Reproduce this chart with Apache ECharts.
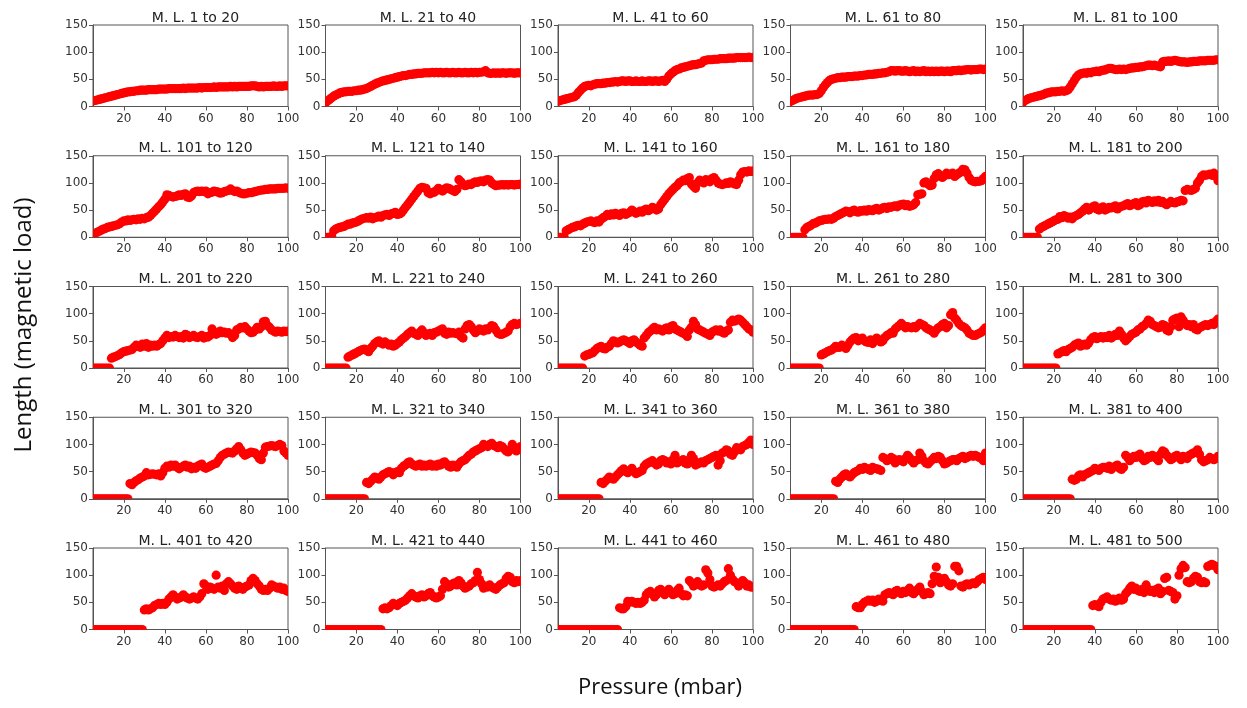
<!DOCTYPE html>
<html>
<head>
<meta charset="utf-8">
<script src="https://cdn.jsdelivr.net/npm/echarts@6/dist/echarts.min.js"></script>
<style>
  html, body { margin: 0; padding: 0; background: #fff; }
  #chart { width: 1247px; height: 708px; }
</style>
</head>
<body>
<div id="chart"></div>
<script>
  const pressure = [5, 6, 7, 8, 9, 10, 11, 12, 13, 14, 15, 16, 17, 18, 19, 20, 21, 22, 23, 24,
    25, 26, 27, 28, 29, 30, 31, 32, 33, 34, 35, 36, 37, 38, 39, 40, 41, 42, 43, 44,
    45, 46, 47, 48, 49, 50, 51, 52, 53, 54, 55, 56, 57, 58, 59, 60, 61, 62, 63, 64,
    65, 66, 67, 68, 69, 70, 71, 72, 73, 74, 75, 76, 77, 78, 79, 80, 81, 82, 83, 84,
    85, 86, 87, 88, 89, 90, 91, 92, 93, 94, 95, 96, 97, 98, 99, 100]

  const titles = ['M. L. 1 to 20', 'M. L. 21 to 40', 'M. L. 41 to 60', 'M. L. 61 to 80', 'M. L. 81 to 100',
    'M. L. 101 to 120', 'M. L. 121 to 140', 'M. L. 141 to 160', 'M. L. 161 to 180', 'M. L. 181 to 200',
    'M. L. 201 to 220', 'M. L. 221 to 240', 'M. L. 241 to 260', 'M. L. 261 to 280', 'M. L. 281 to 300',
    'M. L. 301 to 320', 'M. L. 321 to 340', 'M. L. 341 to 360', 'M. L. 361 to 380', 'M. L. 381 to 400',
    'M. L. 401 to 420', 'M. L. 421 to 440', 'M. L. 441 to 460', 'M. L. 461 to 480', 'M. L. 481 to 500']

  const xTicks = [20, 40, 60, 80, 100]
  const yTicks = [0, 50, 100, 150]

  // length per pressure step, one array per magnetic load group
  const ml1 = [10, 11, 12, 13, 14, 15, 16, 17, 18, 19, 20, 21, 22, 23, 24, 25, 26, 27, 27, 28,
    28, 29, 29, 30, 30, 30, 30, 31, 31, 31, 31, 31, 32, 32, 32, 32, 32, 33, 33, 33,
    33, 33, 33, 33, 34, 33, 34, 34, 34, 34, 34, 34, 35, 34, 35, 35, 35, 35, 35, 36,
    35, 36, 36, 36, 36, 36, 36, 37, 36, 37, 36, 37, 37, 37, 37, 37, 37, 38, 38, 38,
    37, 36, 37, 36, 37, 37, 37, 37, 38, 37, 37, 38, 37, 38, 38, 38]
  const ml21 = [7, 10, 13, 16, 19, 21, 23, 25, 26, 27, 27, 28, 28, 28, 29, 29, 30, 30, 31, 32,
    33, 35, 37, 39, 41, 43, 44, 46, 47, 48, 49, 50, 51, 52, 53, 54, 55, 56, 57, 57,
    58, 59, 59, 60, 60, 61, 61, 61, 62, 62, 62, 62, 63, 62, 63, 62, 63, 62, 62, 63,
    62, 62, 63, 62, 62, 63, 62, 62, 63, 62, 62, 63, 62, 63, 62, 63, 63, 64, 66, 62,
    61, 61, 62, 61, 62, 61, 62, 62, 61, 62, 62, 62, 61, 62, 62, 62]
  const ml41 = [9, 11, 12, 13, 14, 15, 16, 17, 18, 21, 26, 30, 34, 37, 38, 39, 38, 40, 41, 42,
    42, 42, 43, 43, 44, 44, 45, 45, 46, 45, 46, 47, 47, 46, 47, 47, 46, 46, 47, 46,
    46, 47, 46, 46, 47, 47, 46, 47, 47, 46, 47, 48, 46, 50, 56, 60, 63, 66, 68, 69,
    71, 72, 73, 74, 75, 76, 77, 77, 78, 79, 80, 84, 85, 86, 86, 86, 87, 87, 87, 88,
    88, 88, 88, 89, 89, 89, 89, 90, 90, 90, 90, 90, 90, 91, 90, 90]
  const ml61 = [9, 11, 13, 15, 16, 17, 18, 19, 20, 21, 21, 21, 22, 22, 24, 29, 35, 40, 44, 48,
    50, 51, 52, 53, 53, 54, 54, 54, 55, 55, 55, 56, 56, 56, 57, 57, 58, 58, 59, 59,
    59, 60, 60, 61, 61, 62, 62, 63, 64, 66, 66, 65, 66, 66, 65, 65, 66, 65, 64, 65,
    66, 64, 65, 64, 65, 66, 64, 65, 64, 65, 64, 65, 64, 65, 65, 64, 65, 65, 64, 66,
    66, 66, 67, 66, 67, 67, 68, 68, 67, 68, 68, 68, 69, 69, 68, 69]
  const ml81 = [8, 11, 13, 15, 16, 17, 18, 19, 20, 21, 22, 24, 25, 26, 27, 27, 27, 28, 28, 29,
    28, 29, 31, 36, 42, 48, 54, 58, 60, 61, 62, 61, 63, 62, 64, 64, 65, 64, 66, 67,
    67, 69, 70, 70, 69, 68, 68, 69, 68, 69, 68, 69, 70, 71, 71, 72, 72, 73, 73, 74,
    75, 76, 76, 75, 76, 75, 74, 73, 82, 83, 83, 84, 83, 84, 85, 84, 83, 82, 82, 82,
    81, 82, 82, 83, 83, 83, 84, 84, 84, 84, 85, 85, 85, 85, 86, 86]
  const ml101 = [5, 7, 9, 11, 13, 15, 16, 18, 19, 20, 21, 22, 23, 25, 28, 30, 30, 32, 31, 32,
    33, 32, 34, 33, 35, 34, 36, 37, 40, 44, 48, 52, 56, 60, 65, 70, 78, 77, 75, 74,
    75, 76, 78, 77, 79, 80, 74, 73, 76, 82, 84, 85, 84, 85, 84, 85, 80, 82, 83, 85,
    84, 83, 81, 82, 84, 85, 86, 89, 86, 84, 85, 83, 81, 80, 80, 81, 82, 82, 83, 84,
    85, 86, 87, 87, 88, 88, 89, 89, 89, 89, 90, 90, 90, 90, 91, 90]
  const ml121 = [0, 0, 0, 2, 12, 15, 17, 18, 19, 20, 22, 24, 24, 26, 27, 28, 30, 32, 34, 35,
    36, 35, 37, 34, 36, 37, 39, 37, 40, 41, 42, 40, 43, 44, 46, 42, 43, 45, 50, 55,
    60, 65, 70, 75, 80, 85, 90, 92, 91, 90, 82, 80, 82, 83, 86, 90, 88, 85, 88, 91,
    90, 88, 86, 84, 88, 106, 102, 97, 95, 96, 98, 97, 100, 102, 101, 103, 104, 102, 105, 106,
    105, 100, 97, 95, 96, 96, 97, 96, 97, 96, 97, 97, 96, 97, 97, 98]
  const ml141 = [0, 0, 0, 0, 12, 14, 16, 18, 19, 21, 22, 21, 24, 26, 28, 29, 30, 28, 27, 30,
    28, 33, 36, 38, 42, 40, 43, 41, 44, 42, 40, 44, 45, 42, 44, 46, 50, 47, 44, 46,
    48, 46, 50, 52, 49, 51, 55, 53, 50, 52, 60, 65, 70, 75, 80, 84, 88, 92, 95, 100,
    102, 105, 104, 108, 110, 98, 94, 90, 100, 105, 103, 100, 106, 104, 102, 108, 110, 105, 100, 98,
    97, 98, 100, 99, 102, 100, 98, 97, 105, 115, 120, 121, 120, 122, 121, 122]
  const ml161 = [0, 0, 0, 0, 0, 0, 0, 14, 18, 20, 22, 25, 26, 28, 30, 31, 32, 33, 33, 34,
    33, 35, 38, 40, 42, 44, 46, 48, 47, 45, 48, 50, 47, 46, 49, 48, 50, 48, 51, 50,
    49, 52, 53, 50, 52, 54, 55, 53, 56, 55, 57, 58, 56, 59, 60, 61, 58, 60, 57, 58,
    60, 64, 78, 79, 80, 100, 102, 98, 95, 96, 108, 115, 117, 112, 110, 113, 118, 115, 116, 118,
    112, 115, 118, 120, 125, 124, 118, 110, 105, 103, 102, 103, 103, 104, 108, 112]
  const ml181 = [0, 0, 0, 0, 0, 0, 0, 0, 15, 18, 20, 22, 24, 26, 28, 30, 32, 33, 38, 36,
    40, 38, 35, 37, 34, 38, 40, 42, 45, 48, 52, 55, 50, 53, 56, 58, 52, 50, 54, 56,
    50, 52, 55, 54, 56, 58, 52, 55, 57, 58, 60, 62, 58, 60, 62, 64, 58, 60, 65, 66,
    63, 68, 66, 64, 67, 65, 68, 64, 66, 62, 60, 63, 66, 64, 63, 65, 66, 68, 67, 86,
    88, 87, 86, 88, 90, 100, 105, 112, 115, 114, 115, 116, 114, 118, 112, 104]
  const ml201 = [0, 0, 0, 0, 0, 0, 0, 0, 0, 18, 20, 21, 23, 25, 28, 30, 31, 32, 33, 34,
    38, 42, 40, 38, 44, 40, 45, 38, 42, 40, 42, 40, 43, 45, 50, 55, 60, 56, 58, 57,
    60, 58, 56, 58, 55, 62, 60, 56, 58, 60, 57, 56, 58, 60, 55, 58, 57, 60, 72, 66,
    62, 64, 68, 65, 66, 64, 65, 62, 56, 60, 70, 72, 75, 74, 76, 72, 68, 65, 66, 70,
    75, 72, 76, 85, 86, 78, 75, 70, 68, 66, 68, 67, 66, 68, 67, 68]
  const ml221 = [0, 0, 0, 0, 0, 0, 0, 0, 0, 0, 0, 20, 22, 24, 26, 28, 30, 32, 34, 35,
    32, 30, 36, 40, 45, 48, 50, 46, 44, 48, 45, 42, 44, 40, 42, 45, 48, 52, 55, 58,
    62, 65, 68, 64, 62, 60, 66, 70, 65, 60, 62, 64, 60, 65, 66, 68, 70, 72, 64, 62,
    66, 64, 65, 64, 63, 66, 58, 55, 72, 78, 80, 76, 70, 65, 68, 72, 70, 68, 72, 70,
    74, 78, 76, 70, 64, 62, 62, 64, 66, 68, 76, 80, 82, 80, 81, 82]
  const ml241 = [0, 0, 0, 0, 0, 0, 0, 0, 0, 0, 0, 0, 0, 22, 24, 25, 27, 28, 32, 36,
    38, 40, 36, 35, 38, 40, 45, 50, 48, 46, 48, 50, 52, 50, 48, 45, 50, 52, 48, 45,
    42, 40, 55, 60, 65, 68, 72, 75, 70, 72, 70, 68, 72, 74, 70, 76, 78, 72, 70, 68,
    66, 64, 62, 58, 70, 75, 86, 80, 72, 70, 68, 66, 64, 62, 60, 66, 68, 70, 68, 70,
    66, 64, 68, 70, 84, 88, 86, 88, 90, 88, 84, 80, 76, 72, 70, 66]
  const ml261 = [0, 0, 0, 0, 0, 0, 0, 0, 0, 0, 0, 0, 0, 0, 0, 24, 26, 28, 30, 32,
    33, 36, 40, 38, 38, 42, 40, 36, 42, 48, 52, 55, 56, 50, 52, 55, 50, 48, 47, 52,
    45, 50, 55, 52, 48, 50, 56, 60, 62, 65, 64, 72, 75, 78, 82, 78, 74, 76, 75, 74,
    76, 74, 78, 82, 80, 78, 74, 72, 70, 68, 64, 70, 74, 76, 80, 82, 74, 78, 98, 102,
    92, 88, 82, 78, 76, 74, 70, 64, 62, 60, 60, 62, 64, 66, 70, 74]
  const ml281 = [0, 0, 0, 0, 0, 0, 0, 0, 0, 0, 0, 0, 0, 0, 0, 0, 0, 26, 28, 30,
    32, 30, 34, 36, 38, 42, 44, 46, 40, 42, 44, 42, 46, 52, 56, 58, 54, 56, 58, 55,
    58, 56, 60, 55, 58, 62, 60, 68, 62, 55, 50, 54, 58, 62, 64, 66, 70, 72, 76, 78,
    82, 88, 86, 80, 78, 76, 74, 75, 80, 78, 70, 68, 76, 88, 90, 92, 76, 94, 88, 82,
    78, 80, 76, 80, 72, 70, 74, 76, 78, 80, 78, 80, 82, 80, 86, 90]
  const ml301 = [0, 0, 0, 0, 0, 0, 0, 0, 0, 0, 0, 0, 0, 0, 0, 0, 0, 0, 28, 26,
    30, 33, 35, 38, 40, 42, 48, 44, 45, 46, 45, 44, 46, 42, 48, 56, 60, 58, 62, 60,
    62, 58, 55, 58, 60, 62, 58, 60, 55, 58, 56, 60, 62, 64, 58, 56, 58, 60, 62, 64,
    65, 70, 76, 80, 82, 84, 86, 85, 84, 88, 92, 96, 90, 84, 80, 82, 84, 86, 85, 84,
    80, 74, 72, 84, 95, 96, 97, 98, 97, 96, 98, 100, 98, 88, 84, 80]
  const ml321 = [0, 0, 0, 0, 0, 0, 0, 0, 0, 0, 0, 0, 0, 0, 0, 0, 0, 0, 0, 0,
    30, 28, 32, 36, 40, 38, 36, 40, 44, 46, 48, 50, 48, 44, 48, 50, 48, 56, 60, 62,
    66, 68, 64, 62, 60, 62, 64, 60, 62, 60, 62, 64, 60, 62, 60, 64, 62, 66, 68, 64,
    60, 58, 62, 60, 58, 64, 68, 70, 72, 76, 80, 82, 86, 88, 90, 92, 94, 100, 98, 96,
    100, 102, 98, 96, 94, 98, 96, 92, 88, 86, 90, 100, 94, 88, 92, 96]
  const ml341 = [0, 0, 0, 0, 0, 0, 0, 0, 0, 0, 0, 0, 0, 0, 0, 0, 0, 0, 0, 0,
    0, 30, 28, 32, 36, 40, 38, 36, 40, 44, 48, 52, 55, 50, 48, 52, 56, 50, 46, 48,
    50, 52, 60, 64, 66, 68, 70, 66, 62, 64, 70, 72, 70, 66, 68, 64, 72, 80, 66, 68,
    70, 72, 66, 64, 72, 80, 74, 62, 64, 66, 68, 66, 70, 72, 74, 76, 78, 80, 62, 70,
    84, 86, 90, 88, 82, 80, 86, 94, 92, 90, 96, 98, 100, 104, 108, 100]
  const ml361 = [0, 0, 0, 0, 0, 0, 0, 0, 0, 0, 0, 0, 0, 0, 0, 0, 0, 0, 0, 0,
    0, 0, 32, 30, 36, 40, 44, 46, 42, 40, 44, 48, 50, 52, 56, 54, 58, 56, 54, 52,
    58, 56, 55, 54, 52, 76, 74, 70, 72, 76, 74, 66, 70, 72, 70, 68, 74, 80, 76, 70,
    66, 70, 72, 84, 78, 70, 66, 64, 68, 72, 76, 74, 78, 76, 70, 64, 66, 68, 70, 72,
    72, 70, 74, 76, 78, 74, 76, 78, 80, 78, 80, 78, 76, 74, 70, 84]
  const ml381 = [0, 0, 0, 0, 0, 0, 0, 0, 0, 0, 0, 0, 0, 0, 0, 0, 0, 0, 0, 0,
    0, 0, 0, 0, 36, 34, 36, 42, 44, 40, 44, 46, 48, 50, 52, 56, 54, 52, 56, 58,
    58, 56, 60, 54, 58, 60, 62, 56, 54, 58, 80, 76, 70, 74, 78, 76, 80, 82, 74, 70,
    72, 78, 76, 80, 78, 74, 70, 82, 88, 86, 80, 76, 72, 74, 78, 80, 76, 72, 78, 76,
    74, 80, 82, 84, 86, 90, 82, 72, 68, 70, 72, 76, 74, 72, 74, 78]
  const ml401 = [0, 0, 0, 0, 0, 0, 0, 0, 0, 0, 0, 0, 0, 0, 0, 0, 0, 0, 0, 0,
    0, 0, 0, 0, 0, 36, 38, 36, 38, 40, 44, 46, 48, 46, 48, 46, 50, 56, 60, 64,
    60, 56, 58, 60, 64, 60, 58, 56, 58, 60, 58, 56, 60, 66, 84, 80, 74, 78, 76, 74,
    100, 78, 76, 80, 72, 84, 88, 84, 80, 76, 74, 80, 76, 74, 78, 80, 82, 90, 94, 90,
    84, 80, 74, 72, 74, 72, 76, 82, 80, 78, 76, 78, 74, 76, 72, 70]
  const ml421 = [0, 0, 0, 0, 0, 0, 0, 0, 0, 0, 0, 0, 0, 0, 0, 0, 0, 0, 0, 0,
    0, 0, 0, 0, 0, 0, 0, 0, 38, 40, 38, 40, 44, 48, 46, 44, 48, 50, 52, 54,
    58, 62, 66, 62, 60, 58, 62, 64, 60, 62, 66, 68, 62, 60, 58, 60, 62, 74, 88, 84,
    78, 80, 84, 86, 82, 90, 86, 80, 76, 78, 80, 84, 86, 90, 105, 92, 84, 76, 80, 78,
    82, 78, 76, 74, 78, 82, 84, 86, 94, 98, 96, 88, 86, 90, 88, 90]
  const ml441 = [0, 0, 0, 0, 0, 0, 0, 0, 0, 0, 0, 0, 0, 0, 0, 0, 0, 0, 0, 0,
    0, 0, 0, 0, 0, 0, 0, 0, 0, 0, 40, 38, 38, 42, 52, 50, 52, 50, 48, 50,
    48, 50, 54, 64, 68, 70, 66, 60, 64, 72, 74, 68, 64, 70, 74, 68, 64, 66, 72, 76,
    66, 62, 64, 62, 90, 86, 80, 84, 88, 82, 80, 82, 110, 104, 92, 80, 78, 80, 82, 80,
    84, 88, 90, 112, 100, 92, 88, 86, 80, 84, 90, 86, 80, 82, 78, 78]
  const ml461 = [0, 0, 0, 0, 0, 0, 0, 0, 0, 0, 0, 0, 0, 0, 0, 0, 0, 0, 0, 0,
    0, 0, 0, 0, 0, 0, 0, 0, 0, 0, 0, 0, 42, 40, 40, 46, 50, 52, 54, 52,
    54, 50, 52, 56, 54, 52, 64, 66, 68, 66, 64, 70, 72, 68, 66, 70, 68, 72, 76, 68,
    66, 70, 74, 78, 70, 64, 66, 68, 66, 84, 98, 115, 96, 86, 90, 94, 88, 82, 80, 84,
    116, 116, 108, 80, 78, 82, 84, 82, 84, 86, 84, 88, 92, 94, 96, 92]
  const ml481 = [0, 0, 0, 0, 0, 0, 0, 0, 0, 0, 0, 0, 0, 0, 0, 0, 0, 0, 0, 0,
    0, 0, 0, 0, 0, 0, 0, 0, 0, 0, 0, 0, 0, 0, 44, 46, 44, 42, 50, 56,
    58, 60, 56, 54, 56, 52, 54, 58, 54, 56, 66, 70, 76, 80, 74, 76, 72, 70, 74, 68,
    82, 74, 70, 72, 68, 74, 76, 66, 70, 94, 96, 72, 70, 68, 56, 62, 100, 112, 118, 114,
    88, 86, 88, 94, 98, 96, 88, 86, 88, 86, 116, 118, 120, 118, 116, 110]

  const groups = [ml1, ml21, ml41, ml61, ml81, ml101, ml121, ml141, ml161, ml181,
    ml201, ml221, ml241, ml261, ml281, ml301, ml321, ml341, ml361, ml381,
    ml401, ml421, ml441, ml461, ml481]

  const chart = echarts.init(document.getElementById('chart'), null, {renderer: 'canvas'})

  const plotW = 195
  const plotH = 81.5
  const colStep = 232.5
  const rowStep = 130.75
  const left0 = 93
  const top0 = 25
  const dotR = 4.6

  const grid = []
  const xAxis = []
  const yAxis = []
  const series = []
  const title = []
  const axisColor = '#555'
  const labelStyle = {color: '#333', fontSize: 12, fontFamily: 'DejaVu Sans'}

  // circles drawn by a custom series so the grid clips them like matplotlib does
  function renderDot(params, api) {
    const pt = api.coord([api.value(0), api.value(1)])
    return {
      type: 'circle',
      shape: {cx: pt[0], cy: pt[1], r: dotR},
      style: {fill: '#ff0000'}
    }
  }

  groups.forEach((vals, i) => {
    const col = i % 5
    const row = Math.floor(i / 5)
    const left = left0 + col * colStep
    const top = top0 + row * rowStep
    grid.push({
      left: left,
      top: top,
      width: plotW,
      height: plotH,
      show: true,
      borderColor: axisColor,
      borderWidth: 1,
      backgroundColor: 'transparent'
    })
    xAxis.push({
      type: 'value',
      gridIndex: i,
      min: 5,
      max: 100,
      splitLine: {show: false},
      axisLine: {show: true, onZero: false, lineStyle: {color: axisColor}},
      axisTick: {show: true, length: 4, customValues: xTicks, lineStyle: {color: axisColor}},
      axisLabel: Object.assign({customValues: xTicks, margin: 6}, labelStyle)
    })
    yAxis.push({
      type: 'value',
      gridIndex: i,
      min: 0,
      max: 150,
      splitLine: {show: false},
      axisLine: {show: true, lineStyle: {color: axisColor}},
      axisTick: {show: true, length: 4, customValues: yTicks, lineStyle: {color: axisColor}},
      axisLabel: Object.assign({customValues: yTicks, margin: 5}, labelStyle)
    })
    series.push({
      type: 'custom',
      xAxisIndex: i,
      yAxisIndex: i,
      clip: true,
      renderItem: renderDot,
      encode: {x: 0, y: 1},
      data: pressure.map((p, k) => [p, vals[k]])
    })
    title.push({
      text: titles[i],
      left: left + plotW / 2,
      top: top - 19,
      textAlign: 'center',
      textStyle: {fontSize: 14, fontWeight: 'normal', color: '#222', fontFamily: 'DejaVu Sans'}
    })
  })

  chart.setOption({
    animation: false,
    title: title,
    grid: grid,
    xAxis: xAxis,
    yAxis: yAxis,
    series: series,
    graphic: [
      {
        type: 'text',
        x: 24,
        y: 325,
        rotation: Math.PI / 2,
        style: {
          text: 'Length (magnetic load)',
          fontSize: 24,
          fontFamily: 'Open Sans',
          fill: '#111',
          textAlign: 'center',
          textVerticalAlign: 'middle'
        }
      },
      {
        type: 'text',
        x: 660,
        y: 688,
        style: {
          text: 'Pressure (mbar)',
          fontSize: 22,
          fontFamily: 'Open Sans',
          fill: '#111',
          textAlign: 'center',
          textVerticalAlign: 'middle'
        }
      }
    ]
  })
</script>
</body>
</html>
